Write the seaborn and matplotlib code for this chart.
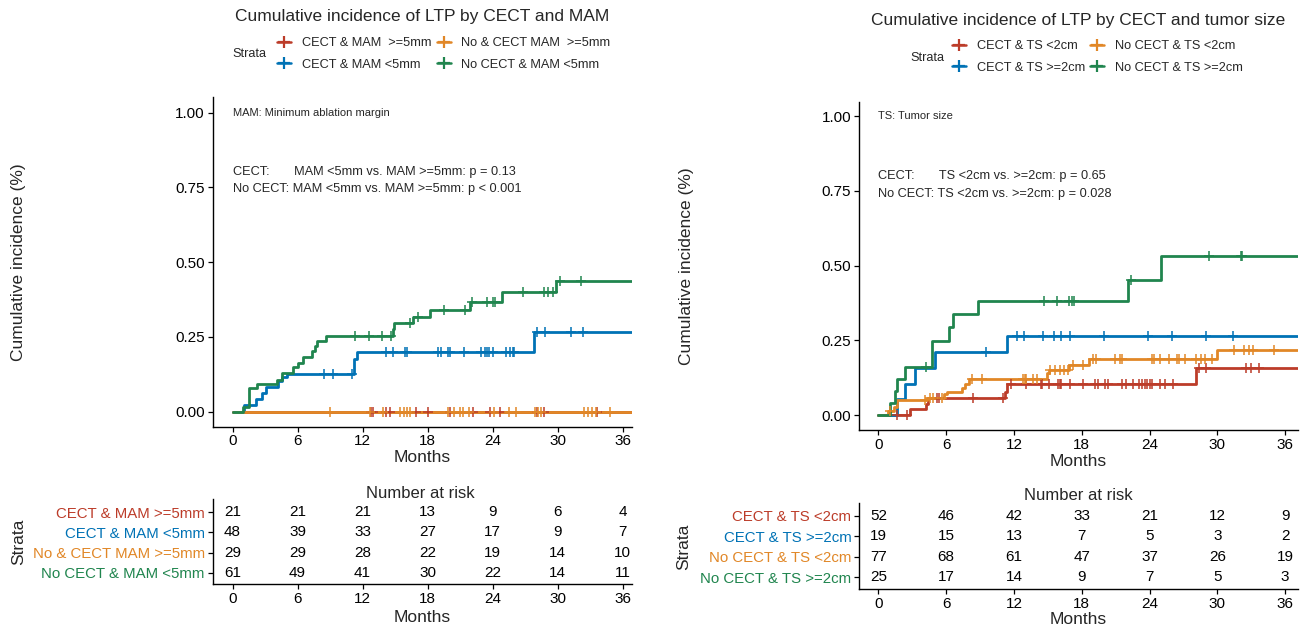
import numpy as np
import pandas as pd
import matplotlib
matplotlib.use("Agg")
import matplotlib.pyplot as plt
from matplotlib.lines import Line2D
import seaborn as sns

sns.set_theme(style="ticks")
plt.rcParams["font.family"] = ["Liberation Sans", "DejaVu Sans"]

# NEJM-like palette used by the original
colors = ["#BC3C29", "#0072B5", "#E18727", "#20854E"]

# ---------------- left panel: CECT and MAM ----------------
mam_strata = ["CECT & MAM >=5mm", "CECT & MAM <5mm", "No & CECT MAM >=5mm", "No CECT & MAM <5mm"]
mam_legend = ["CECT & MAM  >=5mm", "CECT & MAM <5mm", "No & CECT MAM  >=5mm", "No CECT & MAM <5mm"]

mam_red_t, mam_red_y = [], []
mam_red_cens = [12.8, 13.0, 14.2, 14.5, 16.9, 18.0, 20.1, 22.2, 23.8, 24.7, 28.1, 28.7, 33.6]

mam_blue_t = [1.07, 2.2, 2.7, 3.05, 4.2, 4.6, 5.0, 11.2, 11.5, 27.85]
mam_blue_y = [0.021, 0.042, 0.063, 0.083, 0.104, 0.115, 0.125, 0.175, 0.20, 0.268]
mam_blue_cens = [8.4, 9.3, 11.0, 14.2, 14.8, 15.9, 16.1, 19.0, 19.2, 19.9, 20.1, 21.4, 22.9,
                 23.3, 23.5, 23.7, 24.0, 25.2, 25.6, 25.9, 26.0, 28.1, 28.8, 31.2, 32.3]

mam_orange_t, mam_orange_y = [], []
mam_orange_cens = [9.0, 12.7, 13.9, 15.5, 15.8, 16.1, 16.4, 19.9, 20.4, 21.0, 21.3, 21.8, 24.1,
                   25.5, 26.2, 27.9, 28.2, 28.5, 32.4, 32.8, 33.2, 33.5, 34.8]

mam_green_t = [0.98, 1.53, 2.22, 4.12, 4.52, 5.54, 6.06, 6.52, 7.29, 7.6, 7.81, 8.61,
               14.77, 14.92, 16.68, 18.22, 21.91, 24.84, 29.85]
mam_green_y = [0.016, 0.079, 0.094, 0.105, 0.13, 0.149, 0.164, 0.183, 0.203, 0.22, 0.237, 0.254,
               0.277, 0.297, 0.316, 0.341, 0.367, 0.399, 0.438]
mam_green_cens = [11.3, 12.6, 13.8, 14.6, 16.4, 17.1, 19.5, 21.5, 22.1, 23.5, 24.0, 24.2,
                  26.8, 28.7, 29.1, 29.6, 30.2, 32.2]

mam_risk = [[21, 21, 21, 13, 9, 6, 4],
            [48, 39, 33, 27, 17, 9, 7],
            [29, 29, 28, 22, 19, 14, 10],
            [61, 49, 41, 30, 22, 14, 11]]

# ---------------- right panel: CECT and tumor size ----------------
ts_strata = ["CECT & TS <2cm", "CECT & TS >=2cm", "No CECT & TS <2cm", "No CECT & TS >=2cm"]

ts_red_t = [2.8, 4.25, 4.4, 11.2, 11.4, 28.1]
ts_red_y = [0.019, 0.038, 0.058, 0.077, 0.103, 0.157]
ts_red_cens = [1.65, 2.5, 5.2, 5.4, 8.4, 11.0, 11.7, 13.1, 14.4, 14.5, 15.1, 15.9, 16.1, 16.2,
               17.0, 18.1, 19.2, 19.4, 20.1, 20.3, 21.6, 21.9, 22.5, 23.1, 23.3, 23.6, 23.8,
               24.0, 24.2, 24.9, 25.4, 26.1, 28.4, 29.0, 32.5, 33.0, 33.7]

ts_blue_t = [1.65, 2.38, 3.2, 5.0, 11.4]
ts_blue_y = [0.053, 0.105, 0.158, 0.21, 0.266]
ts_blue_cens = [9.5, 12.3, 12.9, 14.6, 15.5, 16.2, 17.0, 20.0, 23.9, 26.0, 29.0, 31.4]

ts_orange_t = [0.85, 1.35, 1.65, 4.3, 5.8, 6.05, 7.4, 7.7, 8.0, 14.9, 15.1, 16.9, 18.6, 30.0]
ts_orange_y = [0.013, 0.026, 0.05, 0.058, 0.07, 0.078, 0.09, 0.103, 0.12, 0.14, 0.151, 0.168,
               0.187, 0.217]
ts_orange_cens = [1.0, 4.15, 4.6, 4.8, 5.6, 8.3, 9.2, 12.8, 13.0, 13.1, 13.7, 14.0, 15.2, 15.6,
                  16.1, 16.4, 16.8, 17.2, 18.1, 19.0, 19.3, 20.9, 21.4, 21.6, 24.2, 24.4, 24.9,
                  25.7, 26.4, 26.6, 27.1, 28.1, 28.6, 28.9, 29.5, 31.5, 32.4, 32.8, 33.2, 35.0]

ts_green_t = [1.05, 1.47, 1.62, 2.36, 4.72, 6.25, 6.64, 8.8, 22.1, 25.0]
ts_green_y = [0.04, 0.08, 0.12, 0.162, 0.249, 0.293, 0.338, 0.383, 0.451, 0.531]
ts_green_cens = [4.24, 14.7, 15.8, 16.9, 17.1, 17.3, 22.4, 29.3, 32.1, 32.2]

ts_risk = [[52, 46, 42, 33, 21, 12, 9],
           [19, 15, 13, 7, 5, 3, 2],
           [77, 68, 61, 47, 37, 26, 19],
           [25, 17, 14, 9, 7, 5, 3]]

risk_months = [0, 6, 12, 18, 24, 30, 36]


def curve_frame(names, times, values):
    rows = []
    for name, t, y in zip(names, times, values):
        rows.append((name, 0.0, 0.0))
        for ti, yi in zip(t, y):
            rows.append((name, ti, yi))
        rows.append((name, 40.0, y[-1] if len(y) else 0.0))
    return pd.DataFrame(rows, columns=["strata", "month", "inc"])


def step_value(t, y, x):
    idx = np.searchsorted(np.asarray(t), np.asarray(x), side="right") - 1
    yy = np.concatenate([[0.0], np.asarray(y, dtype=float)])
    return yy[idx + 1]


def draw_panel(ax, names, times, values, cens, xlim, ylim):
    df = curve_frame(names, times, values)
    sns.lineplot(data=df, x="month", y="inc", hue="strata", hue_order=names,
                 palette=dict(zip(names, colors)), estimator=None, sort=False,
                 drawstyle="steps-post", linewidth=2.0, legend=False, ax=ax)
    for t, y, c, col in zip(times, values, cens, colors):
        ax.plot(c, step_value(t, y, c), linestyle="none", marker="+", ms=6.5, mew=1.1,
                color=col, zorder=3)
    ax.set_xlim(*xlim)
    ax.set_ylim(*ylim)
    ax.set_xticks(risk_months)
    ax.set_yticks([0, 0.25, 0.5, 0.75, 1.0])
    ax.set_yticklabels(["0.00", "0.25", "0.50", "0.75", "1.00"])
    ax.set_xlabel("")
    ax.set_ylabel("")
    sns.despine(ax=ax)


def draw_table(ax, names, risk, xlim, ylim):
    for r, row in enumerate(risk):
        for m, n in zip(risk_months, row):
            ax.text(m, 4 - r, str(n), ha="center", va="center", fontsize=11, color="black")
    ax.set_xlim(*xlim)
    ax.set_ylim(*ylim)
    ax.set_xticks(risk_months)
    ax.set_yticks([4, 3, 2, 1])
    ax.set_yticklabels(names, fontsize=10.8)
    sns.despine(ax=ax)


fig = plt.figure(figsize=(13.11, 6.32), dpi=100)
W, H = 1311, 632


def fx(px):
    return px / W


def fy(py):
    return 1 - py / H


ax1 = fig.add_axes([fx(212.5), fy(426.7), 419.2 / W, 329.7 / H])
ax2 = fig.add_axes([fx(859), fy(430), 439.3 / W, 328.3 / H])
tb1 = fig.add_axes([fx(212.5), fy(584.3), 419.2 / W, 85.3 / H])
tb2 = fig.add_axes([fx(859), fy(589.3), 439.3 / W, 86.6 / H])

draw_panel(ax1, mam_strata,
           [mam_red_t, mam_blue_t, mam_orange_t, mam_green_t],
           [mam_red_y, mam_blue_y, mam_orange_y, mam_green_y],
           [mam_red_cens, mam_blue_cens, mam_orange_cens, mam_green_cens],
           (-1.85, 36.84), (-0.05, 1.052))
draw_panel(ax2, ts_strata,
           [ts_red_t, ts_blue_t, ts_orange_t, ts_green_t],
           [ts_red_y, ts_blue_y, ts_orange_y, ts_green_y],
           [ts_red_cens, ts_blue_cens, ts_orange_cens, ts_green_cens],
           (-1.72, 37.17), (-0.05, 1.048))
draw_table(tb1, mam_strata, mam_risk, (-1.85, 36.84), (0.424, 4.66))
draw_table(tb2, ts_strata, ts_risk, (-1.72, 37.17), (0.413, 4.65))

for ax in [ax1, ax2, tb1, tb2]:
    ax.tick_params(axis="both", labelsize=11, length=3.5, width=0.9, pad=2, color="black",
                   labelcolor="black")
    for s in ["left", "bottom"]:
        ax.spines[s].set_linewidth(1.0)
        ax.spines[s].set_color("black")
for tb in [tb1, tb2]:
    tb.tick_params(axis="y", labelsize=10.8)
    for lab, c in zip(tb.get_yticklabels(), colors):
        lab.set_color(c)

# annotations inside the panels
ax1.text(0, 1.0, "MAM: Minimum ablation margin", fontsize=8, ha="left", va="center")
ax1.text(0, 0.80, "CECT:       MAM <5mm vs. MAM >=5mm: p = 0.13", fontsize=9.2, ha="left", va="center")
ax1.text(0, 0.745, "No CECT: MAM <5mm vs. MAM >=5mm: p < 0.001", fontsize=9.2, ha="left", va="center")
ax2.text(0, 1.0, "TS: Tumor size", fontsize=8, ha="left", va="center")
ax2.text(0, 0.80, "CECT:       TS <2cm vs. >=2cm: p = 0.65", fontsize=9.2, ha="left", va="center")
ax2.text(0, 0.74, "No CECT: TS <2cm vs. >=2cm: p = 0.028", fontsize=9.2, ha="left", va="center")

# titles and axis labels
fig.text(fx(422), fy(17), "Cumulative incidence of LTP by CECT and MAM", fontsize=12.5,
         ha="center", va="center")
fig.text(fx(1078), fy(20), "Cumulative incidence of LTP by CECT and tumor size", fontsize=12.5,
         ha="center", va="center")
fig.text(fx(19), fy(262), "Cumulative incidence (%)", fontsize=12.5, rotation=90,
         ha="center", va="center")
fig.text(fx(686), fy(266), "Cumulative incidence (%)", fontsize=12.5, rotation=90,
         ha="center", va="center")
fig.text(fx(422), fy(458), "Months", fontsize=12.5, ha="center", va="center")
fig.text(fx(1078), fy(462), "Months", fontsize=12.5, ha="center", va="center")
fig.text(fx(420), fy(493), "Number at risk", fontsize=12, ha="center", va="center")
fig.text(fx(1078), fy(495), "Number at risk", fontsize=12, ha="center", va="center")
fig.text(fx(19), fy(542), "Strata", fontsize=12.5, rotation=90, ha="center", va="center")
fig.text(fx(684), fy(547), "Strata", fontsize=12.5, rotation=90, ha="center", va="center")
fig.text(fx(422), fy(617), "Months", fontsize=12.5, ha="center", va="center")
fig.text(fx(1078), fy(620), "Months", fontsize=12.5, ha="center", va="center")


# legends above each panel
def add_legend(labels, x_key, y_top, x_strata, y_strata):
    handles = [Line2D([], [], color=c, lw=1.8, marker="+", ms=9, mew=1.6) for c in colors]
    fig.legend(handles, labels, loc="upper left", bbox_to_anchor=(fx(x_key), fy(y_top)),
               ncol=2, frameon=False, fontsize=9.2, borderpad=0, borderaxespad=0,
               handlelength=1.1, handletextpad=0.85, columnspacing=0.4, labelspacing=0.78)
    fig.text(fx(x_strata), fy(y_strata), "Strata", fontsize=9.2, ha="left", va="center")


add_legend(mam_legend, 277, 37, 232, 54)
add_legend(ts_strata, 952, 40, 910, 58)

fig.savefig("out.png", dpi=100)
